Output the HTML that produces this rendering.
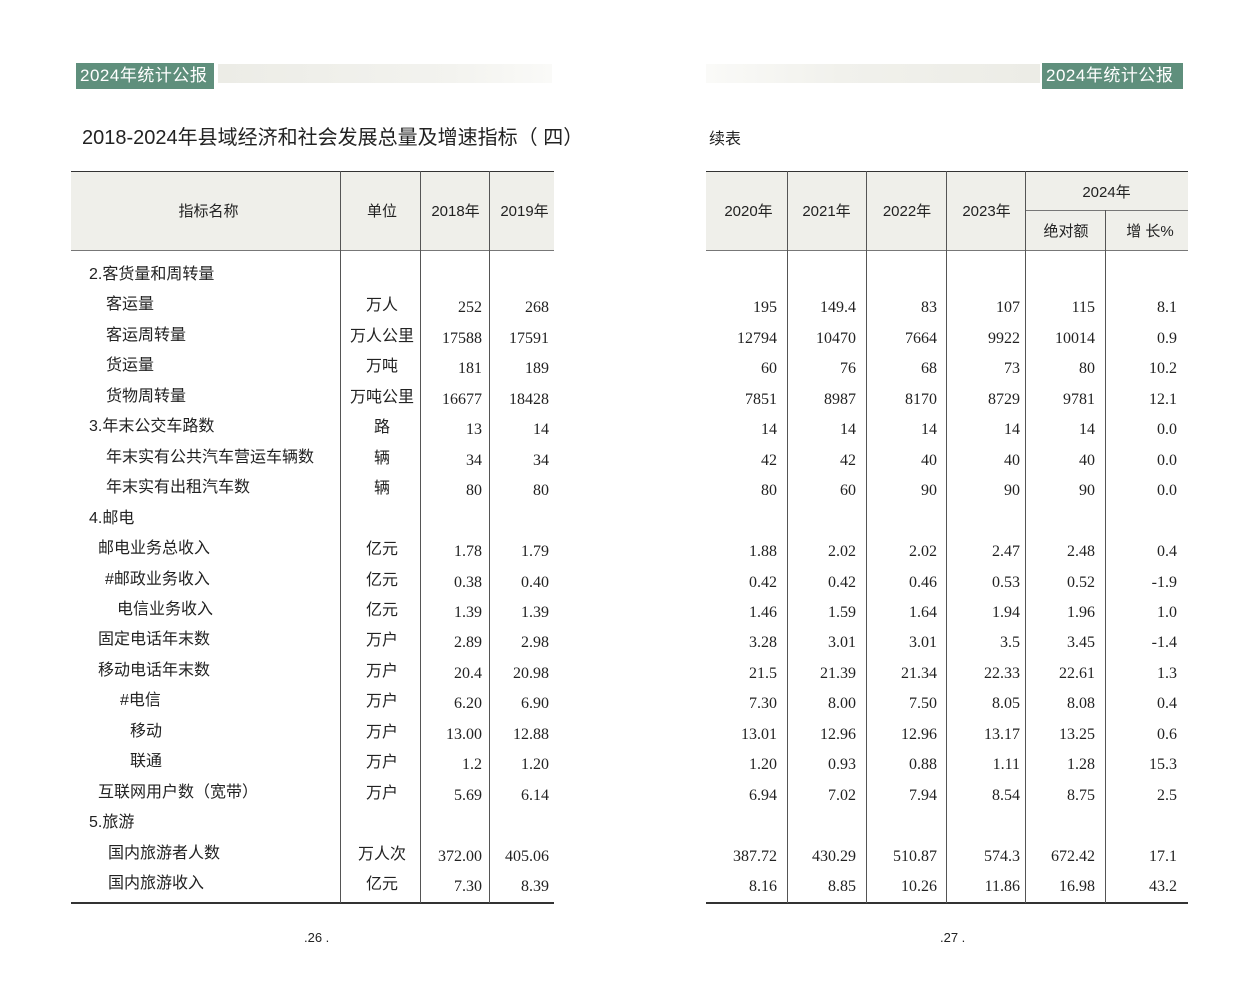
<!DOCTYPE html>
<html><head><meta charset="utf-8"><style>
body{margin:0;width:1259px;height:998px;background:#fff;position:relative;overflow:hidden;font-family:"Liberation Sans","Noto Sans CJK SC",sans-serif;color:#222}
.abs{position:absolute}
.badge{background:#5f8f7c;color:#fff;font-size:17px;line-height:26px;height:26px;top:62px;padding:0 4px;box-sizing:border-box;letter-spacing:0.5px}
.hl{position:absolute;height:1px;background:#333}
.vl{position:absolute;width:1px;background:#555}
.hd{position:absolute;background:#efefea}
.t{position:absolute;font-size:16px;line-height:20px;white-space:nowrap}
.n{position:absolute;font-family:"Liberation Serif","Noto Serif CJK SC",serif;font-size:16px;line-height:20px;text-align:right;white-space:nowrap}
.h{position:absolute;font-size:15px;line-height:20px;text-align:center}
</style></head><body>
<div class="abs badge" style="left:76px;width:138px;top:63px">2024年统计公报</div>
<div class="abs" style="left:218px;top:64px;width:334px;height:19px;background:linear-gradient(90deg,#ecece6,#f3f3ef 70%,#fafaf8)"></div>
<div class="abs badge" style="left:1042px;width:141px;top:63px">2024年统计公报</div>
<div class="abs" style="left:706px;top:64px;width:334px;height:19px;background:linear-gradient(90deg,#fafaf8,#f1f1ec 40%,#ecece6)"></div>
<div class="abs" style="left:82px;top:125px;font-size:20px;line-height:26px;white-space:nowrap">2018-2024年县域经济和社会发展总量及增速指标（ 四）</div>
<div class="abs" style="left:709px;top:130px;font-size:16px;line-height:20px">续表</div>

<div class="hd" style="left:71px;top:172px;width:483px;height:78px"></div>
<div class="hd" style="left:706px;top:172px;width:482px;height:78px"></div>
<div class="hl" style="left:71px;top:171px;width:483px"></div>
<div class="hl" style="left:71px;top:250px;width:483px;background:#777"></div>
<div class="hl" style="left:71px;top:902px;width:483px;height:1.5px"></div>
<div class="hl" style="left:706px;top:171px;width:482px"></div>
<div class="hl" style="left:706px;top:250px;width:482px;background:#777"></div>
<div class="hl" style="left:1025px;top:210px;width:163px;background:#777"></div>
<div class="hl" style="left:706px;top:902px;width:482px;height:1.5px"></div>
<div class="vl" style="left:340px;top:171px;height:732px"></div>
<div class="vl" style="left:420px;top:171px;height:732px"></div>
<div class="vl" style="left:489px;top:171px;height:732px"></div>
<div class="vl" style="left:787px;top:171px;height:732px"></div>
<div class="vl" style="left:866px;top:171px;height:732px"></div>
<div class="vl" style="left:946px;top:171px;height:732px"></div>
<div class="vl" style="left:1025px;top:171px;height:732px"></div>
<div class="vl" style="left:1105px;top:210px;height:693px"></div>

<div class="h" style="left:71px;width:275px;top:202px">指标名称</div>
<div class="h" style="left:340px;width:84px;top:202px">单位</div>
<div class="h" style="left:420px;width:71px;top:202px">2018年</div>
<div class="h" style="left:489px;width:71px;top:202px">2019年</div>
<div class="h" style="left:706px;width:85px;top:202px">2020年</div>
<div class="h" style="left:787px;width:79px;top:202px">2021年</div>
<div class="h" style="left:866px;width:82px;top:202px">2022年</div>
<div class="h" style="left:946px;width:81px;top:202px">2023年</div>
<div class="h" style="left:1025px;width:163px;top:183px">2024年</div>
<div class="h" style="left:1025px;width:82px;top:222px">绝对额</div>
<div class="h" style="left:1105px;width:90px;top:222px">增 长%</div>

<div id="rows"></div>
<script>
var R=[
["2.客货量和周转量",89,""],
["客运量",106,"万人","252","268","195","149.4","83","107","115","8.1"],
["客运周转量",106,"万人公里","17588","17591","12794","10470","7664","9922","10014","0.9"],
["货运量",106,"万吨","181","189","60","76","68","73","80","10.2"],
["货物周转量",106,"万吨公里","16677","18428","7851","8987","8170","8729","9781","12.1"],
["3.年末公交车路数",89,"路","13","14","14","14","14","14","14","0.0"],
["年末实有公共汽车营运车辆数",106,"辆","34","34","42","42","40","40","40","0.0"],
["年末实有出租汽车数",106,"辆","80","80","80","60","90","90","90","0.0"],
["4.邮电",89,""],
["邮电业务总收入",98,"亿元","1.78","1.79","1.88","2.02","2.02","2.47","2.48","0.4"],
["#邮政业务收入",105,"亿元","0.38","0.40","0.42","0.42","0.46","0.53","0.52","-1.9"],
["电信业务收入",117,"亿元","1.39","1.39","1.46","1.59","1.64","1.94","1.96","1.0"],
["固定电话年末数",98,"万户","2.89","2.98","3.28","3.01","3.01","3.5","3.45","-1.4"],
["移动电话年末数",98,"万户","20.4","20.98","21.5","21.39","21.34","22.33","22.61","1.3"],
["#电信",120,"万户","6.20","6.90","7.30","8.00","7.50","8.05","8.08","0.4"],
["移动",130,"万户","13.00","12.88","13.01","12.96","12.96","13.17","13.25","0.6"],
["联通",130,"万户","1.2","1.20","1.20","0.93","0.88","1.11","1.28","15.3"],
["互联网用户数（宽带）",98,"万户","5.69","6.14","6.94","7.02","7.94","8.54","8.75","2.5"],
["5.旅游",89,""],
["国内旅游者人数",108,"万人次","372.00","405.06","387.72","430.29","510.87","574.3","672.42","17.1"],
["国内旅游收入",108,"亿元","7.30","8.39","8.16","8.85","10.26","11.86","16.98","43.2"]];
var rights=[482,549,777,856,937,1020,1095,1177],h="";
R.forEach(function(r,i){var y=265+i*30.45;
h+='<div class="t" style="left:'+r[1]+'px;top:'+y+'px">'+r[0]+'</div>';
if(r[2])h+='<div class="t" style="left:340px;width:84px;text-align:center;top:'+(y+1)+'px">'+r[2]+'</div>';
for(var k=0;k<8;k++)if(r[3+k])h+='<div class="n" style="left:'+(rights[k]-80)+'px;width:80px;top:'+(y+3)+'px">'+r[3+k]+'</div>';});
document.getElementById('rows').innerHTML=h;
</script>
<div class="abs" style="left:304px;top:930px;font-size:13px">.26 .</div>
<div class="abs" style="left:940px;top:930px;font-size:13px">.27 .</div>
</body></html>
